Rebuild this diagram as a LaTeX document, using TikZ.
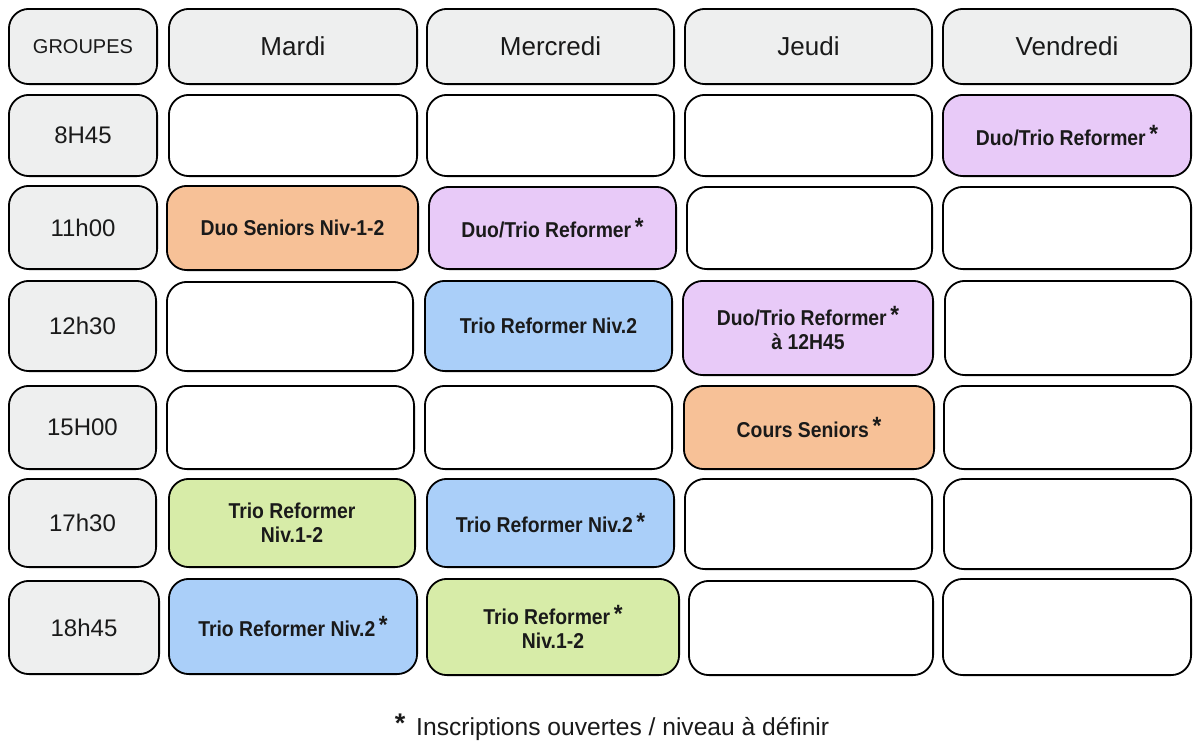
\documentclass[tikz,border=0pt]{standalone}
\usepackage{fontspec}
\setmainfont{Liberation Sans}
\newfontfamily\cellfont[FakeStretch=0.9]{Liberation Sans}
\definecolor{hdr}{HTML}{EEEFEF}
\definecolor{orng}{HTML}{F7C197}
\definecolor{purp}{HTML}{E8CAF8}
\definecolor{blu}{HTML}{AACFF9}
\definecolor{grn}{HTML}{D7ECA8}
\definecolor{txt}{HTML}{1A1A1A}
\newcommand\mkcell[7]{\node[#6, minimum width={#4-#2-1.8}, minimum height={#5-#3-1.8}] (#1) at ({(#2+#4)/2},{(#3+#5)/2}) {#7};}
\newcommand\stx{\,\raisebox{2.5pt}{\fontsize{25}{25}\selectfont\bfseries *}}
\begin{document}
\begin{tikzpicture}[x=1pt,y=-1pt,
  cell/.style={draw=black, line width=1.8pt, rounded corners=20pt, inner sep=0pt, align=center, text=txt},
  greycell/.style={cell, fill=hdr},
  daycell/.style={greycell, font=\fontsize{26}{30}\selectfont},
  timecell/.style={greycell, font=\fontsize{24}{28}\selectfont},
  emptycell/.style={cell, fill=white},
  bcell/.style={cell, font=\cellfont\bfseries\fontsize{21.5}{24}\selectfont},
  orangecell/.style={bcell, fill=orng},
  purplecell/.style={bcell, fill=purp},
  bluecell/.style={bcell, fill=blu},
  greencell/.style={bcell, fill=grn},
  note/.style={text=txt, inner sep=0pt, font=\fontsize{24.6}{28}\selectfont}]
\useasboundingbox[fill=white] (0,0) rectangle (1200,747);
% header row
\mkcell{hG}{8}{8}{158}{85}{greycell, font=\fontsize{20}{24}\selectfont}{GROUPES}
\mkcell{hMa}{168}{8}{418}{85}{daycell}{Mardi}
\mkcell{hMe}{426}{8}{675}{85}{daycell}{Mercredi}
\mkcell{hJe}{684}{8}{933}{85}{daycell}{Jeudi}
\mkcell{hVe}{942}{8}{1192}{85}{daycell}{Vendredi}
% 8H45
\mkcell{t1}{8}{94}{158}{177}{timecell}{8H45}
\mkcell{c11}{168}{94}{418}{177}{emptycell}{}
\mkcell{c12}{426}{94}{675}{177}{emptycell}{}
\mkcell{c13}{684}{94}{933}{177}{emptycell}{}
\mkcell{c14}{942}{94}{1192}{177}{purplecell}{Duo/Trio Reformer\stx}
% 11h00
\mkcell{t2}{8}{185}{158}{270}{timecell}{11h00}
\mkcell{c21}{166}{185}{419}{271}{orangecell}{Duo Seniors Niv-1-2}
\mkcell{c22}{428}{186}{677}{270}{purplecell}{Duo/Trio Reformer\stx}
\mkcell{c23}{686}{186}{933}{270}{emptycell}{}
\mkcell{c24}{942}{186}{1192}{270}{emptycell}{}
% 12h30
\mkcell{t3}{8}{280}{157}{372}{timecell}{12h30}
\mkcell{c31}{166}{281}{414}{372}{emptycell}{}
\mkcell{c32}{424}{280}{673}{372}{bluecell}{Trio Reformer Niv.2}
\mkcell{c33}{682}{280}{934}{376}{purplecell}{Duo/Trio Reformer\stx\\à 12H45}
\mkcell{c34}{944}{280}{1192}{376}{emptycell}{}
% 15H00
\mkcell{t4}{8}{385}{157}{470}{timecell}{15H00}
\mkcell{c41}{166}{385}{415}{470}{emptycell}{}
\mkcell{c42}{424}{385}{673}{470}{emptycell}{}
\mkcell{c43}{683}{385}{935}{470}{orangecell}{Cours Seniors\stx}
\mkcell{c44}{943}{385}{1192}{470}{emptycell}{}
% 17h30
\mkcell{t5}{8}{478}{157}{568}{timecell}{17h30}
\mkcell{c51}{168}{478}{416}{568}{greencell}{Trio Reformer\\Niv.1-2}
\mkcell{c52}{426}{478}{675}{568}{bluecell}{Trio Reformer Niv.2\stx}
\mkcell{c53}{684}{478}{933}{570}{emptycell}{}
\mkcell{c54}{943}{478}{1192}{570}{emptycell}{}
% 18h45
\mkcell{t6}{8}{580}{160}{675}{timecell}{18h45}
\mkcell{c61}{168}{578}{418}{675}{bluecell}{Trio Reformer Niv.2\stx}
\mkcell{c62}{426}{578}{680}{676}{greencell}{Trio Reformer\stx\\Niv.1-2}
\mkcell{c63}{688}{580}{934}{676}{emptycell}{}
\mkcell{c64}{942}{578}{1192}{676}{emptycell}{}
% footnote
\node[note] (fn) at (612,727) {\raisebox{3pt}{\fontsize{27}{27}\selectfont\bfseries *}\ \,Inscriptions ouvertes / niveau à définir};
\end{tikzpicture}
\end{document}
